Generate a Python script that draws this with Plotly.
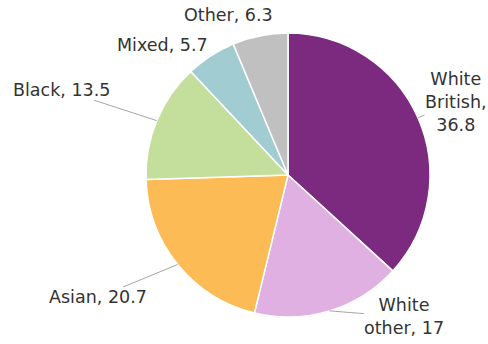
import math
import plotly.graph_objects as go

# Population share by ethnic group (%)
groups = ["White British", "White other", "Asian", "Black", "Mixed", "Other"]
shares = [36.8, 17, 20.7, 13.5, 5.7, 6.3]
label_text = ["White<br>British,<br>36.8", "White<br>other, 17", "Asian, 20.7",
              "Black, 13.5", "Mixed, 5.7", "Other, 6.3"]

colors = ["#7B2A80", "#E0B0E3", "#FCBB55", "#C4DE9C", "#A1CDD2", "#C0C0C0"]

W, H = 488, 344
CX, CY, R = 288, 175, 142  # pie centre / radius in pixels (top-left origin)

# label placement style: pixel offset of text from slice edge, leader visibility
label_offset = {
    "White British": (38, -16, True),
    "White other": (75, 6, True),
    "Asian": (-80, 33, True),
    "Black": (-95, -31, True),
    "Mixed": (-48, -11, False),
    "Other": (-32, -21, False),
}

fig = go.Figure(go.Pie(
    labels=groups,
    values=shares,
    sort=False,
    direction="clockwise",
    rotation=0,
    textinfo="none",
    hoverinfo="label+value",
    marker=dict(colors=colors, line=dict(color="white", width=1.5)),
    domain=dict(x=[(CX - R) / W, (CX + R) / W],
                y=[(H - CY - R) / H, (H - CY + R) / H]),
))

total = sum(shares)
cum = 0.0
annotations = []
for g, v, t in zip(groups, shares, label_text):
    mid = (cum + v / 2) / total * 2 * math.pi
    cum += v
    ex = CX + R * math.sin(mid)
    ey = CY - R * math.cos(mid)
    dx, dy, line = label_offset[g]
    annotations.append(dict(
        x=ex / W, y=1 - ey / H, xref="paper", yref="paper",
        ax=dx, ay=dy, axref="pixel", ayref="pixel",
        text=t, showarrow=True, arrowhead=0, arrowwidth=1,
        arrowcolor="#A6A6A6" if line else "rgba(0,0,0,0)",
        standoff=0, startstandoff=0,
        align="center", borderpad=0,
        font=dict(family="DejaVu Sans", size=17.5, color="#333333"),
    ))

fig.update_layout(
    width=W, height=H,
    margin=dict(l=0, r=0, t=0, b=0),
    paper_bgcolor="white",
    showlegend=False,
    annotations=annotations,
)

fig.write_html("out.html")
